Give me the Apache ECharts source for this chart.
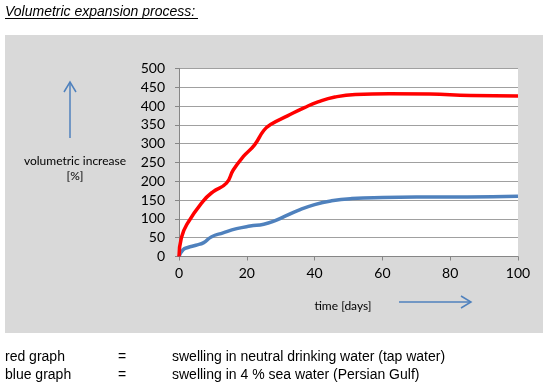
<!DOCTYPE html>
<html><head><meta charset="utf-8">
<script src="https://cdn.jsdelivr.net/npm/echarts@6/dist/echarts.min.js"></script>
<style>html,body{margin:0;padding:0;background:#fff}#c{width:557px;height:391px}</style>
</head><body><div id="c"></div>
<script>
var titleText = 'Volumetric expansion process:';
var xTicks = [0, 20, 40, 60, 80, 100];
var yTicks = [0, 50, 100, 150, 200, 250, 300, 350, 400, 450, 500];
var redDays   = [0, 0.7, 2.5, 7, 10, 14, 16, 19, 22.3, 25, 27, 32, 37, 41, 46, 52, 62, 74, 86, 100];
var redVals   = [0, 50, 88, 146, 172, 195, 230, 266, 297, 335, 351, 374, 396, 411, 424, 431, 433, 432, 428, 427];
var blueDays  = [0, 1.2, 2.6, 5, 7.3, 9.5, 13, 17, 21, 25, 28, 31, 35, 40, 45, 51, 60, 70, 85, 100];
var blueVals  = [0, 18, 24, 30, 37, 52, 63, 74, 81, 86, 94, 106, 122, 138, 148, 154, 157, 158, 158, 160];
var yAxisName = ['volumetric increase', '[%]'];
var xAxisName = 'time [days]';
var legendRows = [['red graph', '=', 'swelling in neutral drinking water (tap water)'],
                  ['blue graph', '=', 'swelling in 4 % sea water (Persian Gulf)']];

function pairs(xs, ys){ return xs.map(function(x,i){ return [x, ys[i]]; }); }

var chart = echarts.init(document.getElementById('c'), null, {renderer:'canvas'});
var arrowColor = '#4f81bd';
var smallFont = '12px Lato, "Open Sans", sans-serif';
var bodyFont = '14px "Liberation Sans", Arial';
var graphics = [
  {type:'rect', z:-10, shape:{x:5, y:35, width:538, height:298}, style:{fill:'#d9d9d9'}, silent:true},
  {type:'text', x:5, y:12, style:{text:titleText, font:'italic 14px "Liberation Sans", Arial', fill:'#000', verticalAlign:'middle'}},
  {type:'line', shape:{x1:5, y1:18.5, x2:198, y2:18.5}, style:{stroke:'#000', lineWidth:1}},
  // y arrow
  {type:'line', shape:{x1:70, y1:138, x2:70, y2:82}, style:{stroke:arrowColor, lineWidth:1.5}},
  {type:'polyline', shape:{points:[[64,92],[70,82],[76,92]]}, style:{stroke:arrowColor, lineWidth:1.5, fill:null}},
  {type:'text', x:75, y:161, style:{text:yAxisName[0], font:smallFont, fill:'#000', align:'center', verticalAlign:'middle'}},
  {type:'text', x:75, y:176, style:{text:yAxisName[1], font:smallFont, fill:'#000', align:'center', verticalAlign:'middle'}},
  // x arrow
  {type:'line', shape:{x1:399, y1:302, x2:471, y2:302}, style:{stroke:arrowColor, lineWidth:1.5}},
  {type:'polyline', shape:{points:[[461,296],[471,302],[461,308]]}, style:{stroke:arrowColor, lineWidth:1.5, fill:null}},
  {type:'text', x:343, y:306, style:{text:xAxisName, font:smallFont, fill:'#000', align:'center', verticalAlign:'middle'}}
];
legendRows.forEach(function(r, i){
  var y = 357 + i*18;
  graphics.push({type:'text', x:5, y:y, style:{text:r[0], font:bodyFont, fill:'#000', verticalAlign:'middle'}});
  graphics.push({type:'text', x:118, y:y, style:{text:r[1], font:bodyFont, fill:'#000', verticalAlign:'middle'}});
  graphics.push({type:'text', x:172, y:y, style:{text:r[2], font:bodyFont, fill:'#000', verticalAlign:'middle'}});
});

chart.setOption({
  animation:false,
  backgroundColor:'#fff',
  grid:{left:179, right:39, top:68.5, bottom:134.5, containLabel:false, show:true, backgroundColor:'#fff', borderWidth:0},
  xAxis:{type:'value', min:xTicks[0], max:xTicks[xTicks.length-1], interval:20,
    axisLine:{show:true, lineStyle:{color:'#868686', width:1}},
    axisTick:{show:true, length:4, lineStyle:{color:'#868686'}},
    axisLabel:{margin:10, fontSize:14, color:'#000', fontFamily:'Lato, "Open Sans", sans-serif'},
    splitLine:{show:false}},
  yAxis:{type:'value', min:yTicks[0], max:yTicks[yTicks.length-1], interval:50,
    axisLine:{show:true, lineStyle:{color:'#868686', width:1}},
    axisTick:{show:true, length:4, lineStyle:{color:'#868686'}},
    axisLabel:{margin:14, fontSize:14, color:'#000', fontFamily:'Lato, "Open Sans", sans-serif'},
    splitLine:{show:true, lineStyle:{color:'#a0a0a0', width:1}}},
  graphic:graphics,
  series:[
    {type:'line', data:pairs(blueDays, blueVals), smooth:0.5, showSymbol:false,
     lineStyle:{color:'#4f81bd', width:3.5}, z:3},
    {type:'line', data:pairs(redDays, redVals), smooth:0.5, showSymbol:false,
     lineStyle:{color:'#ff0000', width:3.5}, z:4}
  ]
});
</script></body></html>
